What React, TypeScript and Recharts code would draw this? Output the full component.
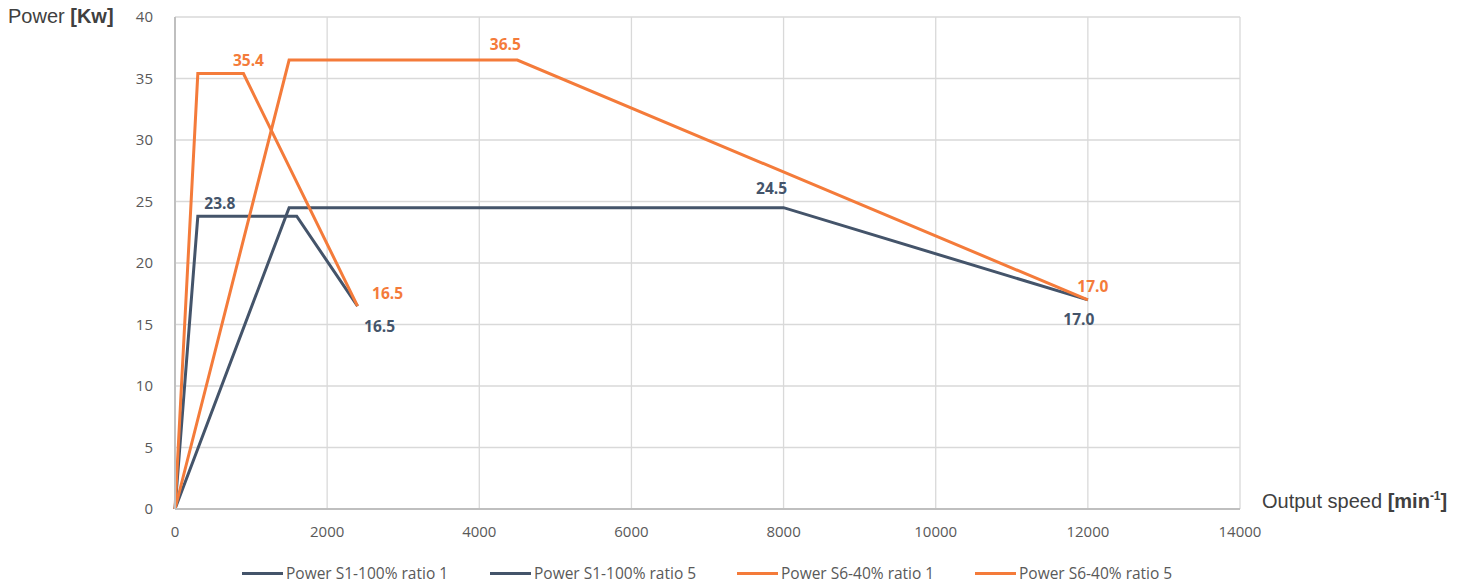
import { LineChart, Line, XAxis, YAxis, CartesianGrid } from 'recharts';

const s1Ratio1 = [
  { speed: 0, power: 0 },
  { speed: 300, power: 23.8 },
  { speed: 1600, power: 23.8 },
  { speed: 2400, power: 16.5 },
];
const s1Ratio5 = [
  { speed: 0, power: 0 },
  { speed: 1500, power: 24.5 },
  { speed: 8000, power: 24.5 },
  { speed: 12000, power: 17.0 },
];
const s6Ratio1 = [
  { speed: 0, power: 0 },
  { speed: 300, power: 35.4 },
  { speed: 900, power: 35.4 },
  { speed: 2400, power: 16.5 },
];
const s6Ratio5 = [
  { speed: 0, power: 0 },
  { speed: 1500, power: 36.5 },
  { speed: 4500, power: 36.5 },
  { speed: 12000, power: 17.0 },
];

const xTicks = [0, 2000, 4000, 6000, 8000, 10000, 12000, 14000];
const yTicks = [0, 5, 10, 15, 20, 25, 30, 35, 40];

const DARK = '#44546A';
const ORANGE = '#F47B3A';
const GREY_TEXT = '#595959';
const SANS = "'Open Sans', sans-serif";

// which points get a value label, and where it sits relative to the point
type LabelSpot = { index: number; dx: number; dy: number };

const series = [
  { name: 'Power S1-100% ratio 1', data: s1Ratio1, color: DARK,
    labels: [{ index: 1, dx: 22, dy: -13 }, { index: 3, dx: 22, dy: 20 }] },
  { name: 'Power S1-100% ratio 5', data: s1Ratio5, color: DARK,
    labels: [{ index: 2, dx: -12, dy: -20 }, { index: 3, dx: -9, dy: 19 }] },
  { name: 'Power S6-40% ratio 1', data: s6Ratio1, color: ORANGE,
    labels: [{ index: 2, dx: 5, dy: -14 }, { index: 3, dx: 30, dy: -13 }] },
  { name: 'Power S6-40% ratio 5', data: s6Ratio5, color: ORANGE,
    labels: [{ index: 2, dx: -12, dy: -16 }, { index: 3, dx: 5, dy: -14 }] },
];

const legendPos = [242, 490, 737, 975];

function makeLabel(spots: LabelSpot[], color: string) {
  return (props: any) => {
    const { x, y, index, value } = props;
    const spot = spots.find((s) => s.index === index);
    if (!spot) return null;
    return (
      <text
        key={`l-${index}`}
        x={x + spot.dx}
        y={y + spot.dy}
        textAnchor="middle"
        dominantBaseline="central"
        fill={color}
        fontSize={15.5}
        fontWeight="bold"
        fontFamily={SANS}
      >
        {Number(value).toFixed(1)}
      </text>
    );
  };
}

export default function App() {
  return (
    <div
      style={{
        position: 'fixed', left: 0, top: 0, width: 1464, height: 585,
        background: '#fff', fontFamily: "'Liberation Sans', Arial, sans-serif",
      }}
    >
      <div style={{ position: 'absolute', left: 8, top: 5, fontSize: 20, color: '#404040' }}>
        Power <b>[Kw]</b>
      </div>
      <div style={{ position: 'absolute', left: 1262, top: 489, fontSize: 20, color: '#404040' }}>
        Output speed <b>[min<sup style={{ fontSize: 12 }}>-1</sup>]</b>
      </div>

      <LineChart width={1464} height={585} margin={{ top: 17, right: 224, left: 135, bottom: 46 }}>
        <CartesianGrid stroke="#D9D9D9" strokeWidth={1.3} />
        <XAxis
          type="number"
          dataKey="speed"
          domain={[0, 14000]}
          ticks={xTicks}
          tickLine={false}
          axisLine={{ stroke: '#BFBFBF', strokeWidth: 2 }}
          tick={{ fill: GREY_TEXT, fontSize: 15, fontFamily: SANS }}
          tickMargin={11}
          height={30}
          allowDuplicatedCategory={false}
        />
        <YAxis
          type="number"
          dataKey="power"
          domain={[0, 40]}
          ticks={yTicks}
          tickLine={false}
          axisLine={{ stroke: '#BFBFBF', strokeWidth: 2 }}
          tick={{ fill: GREY_TEXT, fontSize: 15, fontFamily: SANS }}
          tickMargin={16}
          width={40}
        />
        {series.map((s) => (
          <Line
            key={s.name}
            data={s.data}
            dataKey="power"
            name={s.name}
            type="linear"
            stroke={s.color}
            strokeWidth={3}
            dot={false}
            activeDot={false}
            isAnimationActive={false}
            label={makeLabel(s.labels, s.color)}
          />
        ))}
      </LineChart>

      {series.map((s, i) => (
        <div
          key={s.name}
          style={{
            position: 'absolute', left: legendPos[i], top: 562,
            display: 'flex', alignItems: 'center',
            fontFamily: SANS, fontSize: 15.5, color: GREY_TEXT,
            whiteSpace: 'nowrap',
          }}
        >
          <span style={{ display: 'inline-block', width: 41, height: 3, background: s.color, marginRight: 3 }} />
          {s.name}
        </div>
      ))}
    </div>
  );
}
